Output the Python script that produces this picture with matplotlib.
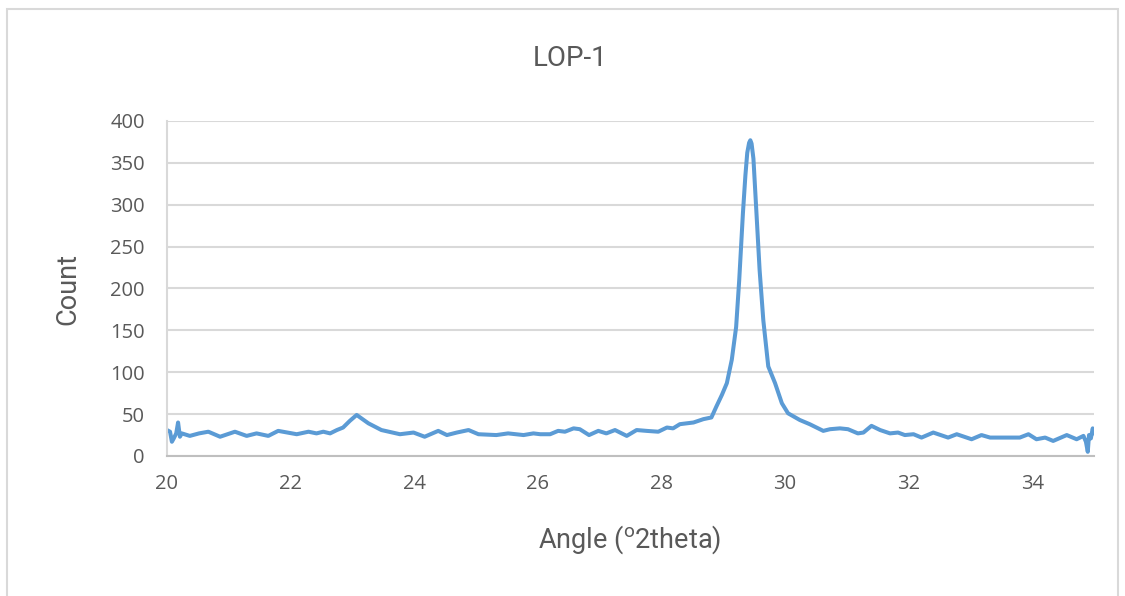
import matplotlib.pyplot as plt
from matplotlib.patches import Rectangle

# Difractograma LOP-1 (angulo 2theta vs cuentas)
angle = [20.00, 20.05, 20.08, 20.11, 20.15, 20.18, 20.21, 20.24, 20.37, 20.52,
         20.67, 20.86, 21.10, 21.29, 21.45, 21.64, 21.80, 22.10, 22.29, 22.42,
         22.53, 22.64, 22.75, 22.85, 22.96, 23.07, 23.26, 23.47, 23.77, 23.99,
         24.17, 24.39, 24.53, 24.69, 24.88, 25.04, 25.33, 25.52, 25.77, 25.93,
         26.04, 26.20, 26.33, 26.44, 26.58, 26.68, 26.83, 26.98, 27.11, 27.25,
         27.44, 27.60, 27.76, 27.95, 28.09, 28.19, 28.30, 28.52, 28.68, 28.81,
         28.89, 28.98, 29.06, 29.14, 29.21, 29.26, 29.32, 29.36, 29.39, 29.42,
         29.44, 29.46, 29.49, 29.53, 29.59, 29.65, 29.73, 29.84, 29.95, 30.05,
         30.24, 30.40, 30.62, 30.73, 30.89, 31.02, 31.18, 31.27, 31.40, 31.54,
         31.70, 31.83, 31.94, 32.08, 32.21, 32.40, 32.64, 32.78, 33.02, 33.18,
         33.32, 33.59, 33.80, 33.94, 34.07, 34.21, 34.34, 34.56, 34.72, 34.83,
         34.87, 34.90, 34.92, 34.95, 34.98, 35.00]
count = [31, 29, 17, 21, 27, 40, 23, 27, 24, 27,
         29, 23, 29, 24, 27, 24, 30, 26, 29, 27,
         29, 27, 31, 34, 42, 49, 39, 31, 26, 28,
         23, 30, 25, 28, 31, 26, 25, 27, 25, 27,
         26, 26, 30, 29, 33, 32, 25, 30, 27, 31,
         24, 31, 30, 29, 34, 33, 38, 40, 44, 46,
         59, 73, 87, 115, 154, 210, 290, 335, 362, 374,
         377, 373, 355, 302, 222, 162, 107, 87, 63, 51,
         43, 38, 30, 32, 33, 32, 27, 28, 36, 31,
         27, 28, 25, 26, 22, 28, 22, 26, 20, 25,
         22, 22, 22, 26, 20, 22, 18, 25, 20, 24,
         17, 5, 25, 21, 33, 27]

yticks = [0, 50, 100, 150, 200, 250, 300, 350, 400]
xticks = [20, 22, 24, 26, 28, 30, 32, 34]

text_color = "#595959"
grid_color = "#D9D9D9"

fig = plt.figure(figsize=(11.25, 5.96), dpi=100)
ax = fig.add_axes([0.1484, 0.2349, 0.8240, 0.5621])

ax.plot(angle, count, color="#5B9BD5", linewidth=2.9, solid_joinstyle="round",
        solid_capstyle="round")

ax.set_xlim(20, 35)
ax.set_ylim(0, 400)
ax.set_xticks(xticks)
ax.set_yticks(yticks)
ax.grid(axis="y", color=grid_color, linewidth=1.5)
ax.set_axisbelow(True)

for side in ["top", "right"]:
    ax.spines[side].set_visible(False)
ax.spines["left"].set_color(grid_color)
ax.spines["left"].set_linewidth(1.5)
ax.spines["bottom"].set_color("#BFBFBF")
ax.spines["bottom"].set_linewidth(1.5)

ax.tick_params(length=0, labelsize=14.5, labelcolor=text_color)
ax.tick_params(axis="y", pad=16)
ax.tick_params(axis="x", pad=13)
for lbl in ax.get_xticklabels() + ax.get_yticklabels():
    lbl.set_family("Open Sans")

title_font = dict(color=text_color, family="Roboto", fontweight="normal")
fig.text(0.507, 0.902, "LOP-1", ha="center", va="center", fontsize=20, **title_font)
fig.text(0.560, 0.094, r"Angle ($^{\mathregular{o}}$2theta)", ha="center", va="center",
         fontsize=19.5, **title_font)
fig.text(0.060, 0.515, "Count", ha="center", va="center", rotation=90,
         fontsize=19.5, **title_font)

# marco del grafico
fig.patches.append(Rectangle((7 / 1125, -0.1), (1118 - 7) / 1125, 1.1 - 9 / 596,
                             transform=fig.transFigure, fill=False,
                             edgecolor=grid_color, linewidth=1.5))

plt.savefig("out.png", dpi=100)
